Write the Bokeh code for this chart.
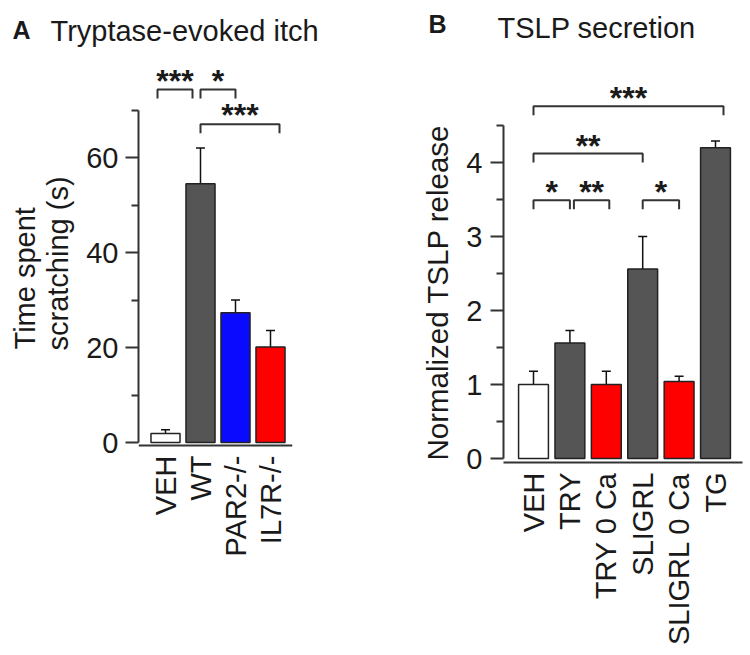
import math
from bokeh.plotting import figure
from bokeh.layouts import row, column
from bokeh.models import (FixedTicker, Label, Whisker, ColumnDataSource, TeeHead,
                          Range1d, Span)
from bokeh.core.properties import value
from bokeh.embed import file_html
from bokeh.resources import INLINE

# ---------------- data ----------------
# Panel A: Tryptase-evoked itch
a_groups = ["VEH", "WT", "PAR2-/-", "IL7R-/-"]
a_means = [1.9, 54.5, 27.3, 20.1]
a_errs = [0.8, 7.5, 2.7, 3.5]
a_colors = ["#ffffff", "#555555", "#0a0aff", "#ff0000"]
a_yticks = [0, 20, 40, 60]
a_yminor = [10, 30, 50, 70]
# significance comparisons: (group i, group j, stars, bracket height)
a_sig = [(0, 1, "***", 74.3), (1, 2, "*", 74.3), (1, 3, "***", 67.0)]

# Panel B: TSLP secretion
b_groups = ["VEH", "TRY", "TRY 0 Ca", "SLIGRL", "SLIGRL 0 Ca", "TG"]
b_means = [1.0, 1.56, 1.0, 2.56, 1.04, 4.2]
b_errs = [0.18, 0.17, 0.18, 0.44, 0.07, 0.09]
b_colors = ["#ffffff", "#555555", "#ff0000", "#555555", "#ff0000", "#555555"]
b_yticks = [0, 1, 2, 3, 4]
b_yminor = [0.5, 1.5, 2.5, 3.5, 4.5]
b_sig = [(0, 5, "***", 4.76), (0, 3, "**", 4.12), (0, 1, "*", 3.49),
         (1, 2, "**", 3.49), (3, 4, "*", 3.49)]

# ---------------- style / layout ----------------
FONT = "Liberation Sans"
AXC = "#333333"
TXT = "#1a1a1a"
FS = "29px"
FIG_H = 600        # height of the figures in the lower row
BOTTOM = 188       # common bottom border (row frames are aligned)
FRAME_H = FIG_H - BOTTOM
# small horizontal nudges (pixels) of bracket ends, as drawn in the original
A_NUDGE = [(-8, -8), (0, 0), (0, 9)]
B_NUDGE = [(0, 8), (0, 0), (0, 0), (4, 3), (0, 0)]


def blank_fig(width, height, frame_h, bottom=0):
    p = figure(width=width, height=height, x_range=Range1d(0, width),
               y_range=Range1d(frame_h, 0), output_backend="svg",
               toolbar_location=None, title=None,
               x_axis_location=None, y_axis_location=None,
               min_border_left=0, min_border_right=0,
               min_border_top=0, min_border_bottom=bottom)
    p.outline_line_color = None
    p.xgrid.visible = False
    p.ygrid.visible = False
    return p


def title_fig(width, height, letter, letter_xy, title, title_xy):
    p = blank_fig(width, height, height)
    p.add_layout(Label(x=letter_xy[0], y=letter_xy[1], text=letter,
                       text_font=FONT, text_font_size="25px",
                       text_font_style="bold", text_color=TXT,
                       text_baseline="alphabetic"))
    p.add_layout(Label(x=title_xy[0], y=title_xy[1], text=title,
                       text_font=FONT, text_font_size=FS,
                       text_color=TXT, text_baseline="alphabetic"))
    return p


def ylabel_fig(width, lines):
    # coordinates in pixels from the top-left of the figure
    p = blank_fig(width, FIG_H, FRAME_H, bottom=BOTTOM)
    for text, x, y, align, fs in lines:
        p.add_layout(Label(x=x, y=y, text=text, angle=math.pi / 2,
                           text_font=FONT, text_font_size=fs,
                           text_color=TXT, text_align=align,
                           text_baseline="middle"))
    return p


def make_panel(groups, means, errs, colors, yticks, yminor, sig, nudge, *,
               ppu, zero_px, axis_gap_px, ybounds, bar_w, drop_px, star_px,
               px_per_group, x_first_px, left, right, width, tick_standoff):
    frame_w = width - left - right
    x_range = (-x_first_px / px_per_group, (frame_w - x_first_px) / px_per_group)
    y_range = (-(FRAME_H - zero_px) / ppu, zero_px / ppu)
    p = figure(width=width, height=FIG_H, x_range=Range1d(*x_range),
               y_range=Range1d(*y_range), output_backend="svg",
               toolbar_location=None, title=None,
               min_border_left=left, min_border_right=right,
               min_border_top=0, min_border_bottom=BOTTOM)
    p.outline_line_color = None
    p.xgrid.visible = False
    p.ygrid.visible = False

    x = list(range(len(groups)))
    p.vbar(x=x, top=means, bottom=0, width=bar_w, fill_color=colors,
           line_color="#222222", line_width=1.5)

    src = ColumnDataSource(dict(x=x,
                                upper=[m + e for m, e in zip(means, errs)],
                                lower=[m - e for m, e in zip(means, errs)]))
    w = Whisker(source=src, base="x", upper="upper", lower="lower",
                line_color="#111111", line_width=1.5,
                upper_head=TeeHead(size=9, line_color="#111111", line_width=1.5),
                lower_head=TeeHead(size=9, line_color="#111111", line_width=1.5))
    p.add_layout(w)

    drop = drop_px / ppu
    soff = star_px / ppu
    xs, ys, sx, sy, st = [], [], [], [], []
    for (i, j, s, h), (nl, nr) in zip(sig, nudge):
        x0 = i + nl / px_per_group
        x1 = j + nr / px_per_group
        xs.append([x0, x0, x1, x1])
        ys.append([h - drop, h, h, h - drop])
        sx.append((x0 + x1) / 2)
        sy.append(h + soff)
        st.append(s)
    p.multi_line(xs, ys, line_color=AXC, line_width=2)
    p.text(x=sx, y=sy, text=st, text_font=value(FONT), text_font_size="32px",
           text_font_style="bold", text_align="center",
           text_baseline="alphabetic", text_color=TXT)

    # y axis
    ya = p.yaxis[0]
    ya.ticker = FixedTicker(ticks=yticks, minor_ticks=yminor)
    ya.bounds = ybounds
    ya.axis_line_width = 2
    ya.axis_line_color = AXC
    ya.major_tick_line_color = AXC
    ya.major_tick_line_width = 2
    ya.minor_tick_line_color = AXC
    ya.minor_tick_line_width = 2
    ya.major_tick_out = 13
    ya.major_tick_in = 0
    ya.minor_tick_out = 7
    ya.minor_tick_in = 0
    ya.major_label_text_font = FONT
    ya.major_label_text_font_size = FS
    ya.major_label_text_color = TXT
    ya.major_label_standoff = tick_standoff

    # x axis: baseline drawn a few pixels below zero
    axis_px = zero_px + axis_gap_px            # from frame top
    lift = FRAME_H - axis_px                   # distance above frame bottom
    xa = p.xaxis[0]
    xa.ticker = FixedTicker(ticks=x, minor_ticks=[])
    xa.major_label_overrides = {i: g for i, g in zip(x, groups)}
    xa.major_label_orientation = math.pi / 2
    xa.major_tick_line_color = None
    xa.minor_tick_line_color = None
    xa.major_tick_out = 0
    xa.major_tick_in = 0
    xa.major_label_text_font = FONT
    xa.major_label_text_font_size = FS
    xa.major_label_text_color = TXT
    xa.major_label_standoff = 10 - lift
    if lift > 0:
        xa.axis_line_color = None
        p.add_layout(Span(location=-axis_gap_px / ppu, dimension="width",
                          line_color=AXC, line_width=2))
    else:
        xa.axis_line_width = 2
        xa.axis_line_color = AXC
    return p


ta = title_fig(375, 50, "A", (12, 29), "Tryptase-evoked itch", (50, 30))
tb = title_fig(375, 50, "B", (53, 23), "TSLP secretion", (122, 27))

la = ylabel_fig(75, [("Time spent", 24, 299, "left", FS),
                     ("scratching (s)", 57, 300, "left", FS)])
lb = ylabel_fig(80, [("Normalized TSLP release", 62, 242, "center", "29.5px")])

pa = make_panel(a_groups, a_means, a_errs, a_colors, a_yticks, a_yminor, a_sig,
                A_NUDGE, ppu=4.75, zero_px=392, axis_gap_px=3, ybounds=(0, 70),
                bar_w=0.83, drop_px=9, star_px=9, px_per_group=35.0,
                x_first_px=27, left=63, right=83, width=300, tick_standoff=7)

pb = make_panel(b_groups, b_means, b_errs, b_colors, b_yticks, b_yminor, b_sig,
                B_NUDGE, ppu=74.0, zero_px=408, axis_gap_px=4, ybounds=(0, 4.5),
                bar_w=0.82, drop_px=9, star_px=8, px_per_group=36.4,
                x_first_px=30, left=48, right=8, width=295, tick_standoff=8)

layout = column(row(ta, tb), row(la, pa, lb, pb))
open("out.html", "w").write(file_html(layout, INLINE))
